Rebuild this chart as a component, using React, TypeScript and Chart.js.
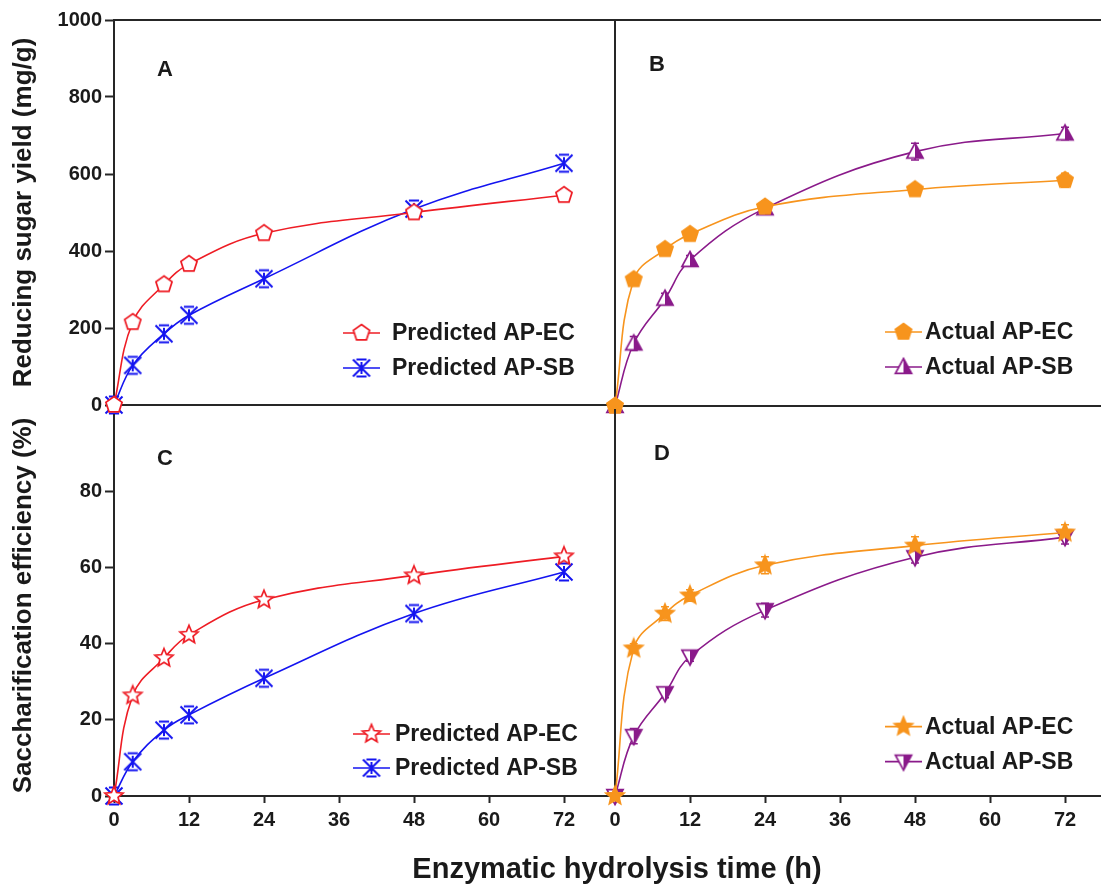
import React, { useEffect, useRef } from 'react';
import { Chart, registerables } from 'chart.js';

Chart.register(...registerables);

// ---------- data ----------
const hours = [0, 3, 8, 12, 24, 48, 72];
const xTicks = [0, 12, 24, 36, 48, 60, 72];
const yieldTicks = [0, 200, 400, 600, 800, 1000];
const effTicks = [0, 20, 40, 60, 80];

const predYieldEC = [0, 215, 313, 366, 446, 500, 545];
const predYieldSB = [0, 103, 185, 233, 328, 509, 628];
const actYieldEC = [0, 328, 406, 445, 516, 561, 585];
const actYieldECErr = [0, 8, 10, 10, 14, 10, 18];
const actYieldSB = [0, 162, 278, 378, 512, 659, 706];
const actYieldSBErr = [0, 18, 14, 12, 10, 22, 16];

const predEffEC = [0, 26.4, 36.2, 42.3, 51.5, 57.9, 62.9];
const predEffSB = [0, 9.0, 17.3, 21.3, 30.9, 47.9, 58.8];
const actEffEC = [0, 38.2, 47.2, 51.9, 59.7, 64.8, 68.2];
const actEffECErr = [0, 1.2, 1.8, 1.5, 2.2, 2.3, 2.0];
const actEffSB = [0, 15.5, 26.6, 36.1, 48.1, 61.8, 67.0];
const actEffSBErr = [0, 2.0, 1.2, 1.2, 1.8, 1.5, 1.8];

// ---------- style ----------
const FONT = "'Liberation Sans', Arial, Helvetica, sans-serif";
const INK = '#1a1a1a';
const AXIS = '#262626';
const RED = '#ee1c24';
const BLUE = '#1414f0';
const ORANGE = '#f7941d';
const PURPLE = '#8a1a8a';

type MarkerKind = 'pentOpen' | 'pentFill' | 'starOpen' | 'starFill' | 'hourglass' | 'triUpHalf' | 'triDownHalf';

function poly(ctx: CanvasRenderingContext2D, pts: number[][]) {
  ctx.beginPath();
  pts.forEach(([x, y], i) => (i ? ctx.lineTo(x, y) : ctx.moveTo(x, y)));
  ctx.closePath();
}

function makeMarker(kind: MarkerKind, color: string, r: number): HTMLCanvasElement {
  const size = Math.ceil(r * 2 + 5);
  const c = document.createElement('canvas');
  c.width = size;
  c.height = size;
  const ctx = c.getContext('2d')!;
  ctx.translate(size / 2, size / 2);
  ctx.lineWidth = 1.7;
  ctx.strokeStyle = color;
  ctx.fillStyle = color;
  const ngon = (n: number, rad: number) =>
    Array.from({ length: n }, (_, i) => {
      const a = -Math.PI / 2 + (2 * Math.PI * i) / n;
      return [rad * Math.cos(a), rad * Math.sin(a)];
    });
  const star = (rad: number) =>
    Array.from({ length: 10 }, (_, i) => {
      const rr = i % 2 ? rad * 0.45 : rad;
      const a = -Math.PI / 2 + (Math.PI * i) / 5;
      return [rr * Math.cos(a), rr * Math.sin(a)];
    });
  switch (kind) {
    case 'pentOpen':
      poly(ctx, ngon(5, r));
      ctx.fillStyle = '#fff';
      ctx.fill();
      ctx.stroke();
      break;
    case 'pentFill':
      poly(ctx, ngon(5, r));
      ctx.fill();
      ctx.stroke();
      break;
    case 'starOpen':
      poly(ctx, star(r));
      ctx.fillStyle = '#fff';
      ctx.fill();
      ctx.stroke();
      break;
    case 'starFill':
      poly(ctx, star(r));
      ctx.fill();
      ctx.stroke();
      break;
    case 'hourglass':
      ctx.lineWidth = 2;
      ctx.beginPath();
      ctx.moveTo(-r, -r); ctx.lineTo(r, r);
      ctx.moveTo(r, -r); ctx.lineTo(-r, r);
      ctx.moveTo(-r * 0.6, -r); ctx.lineTo(r * 0.6, -r);
      ctx.moveTo(-r * 0.6, r); ctx.lineTo(r * 0.6, r);
      ctx.moveTo(0, -r * 0.7); ctx.lineTo(0, r * 0.7);
      ctx.stroke();
      break;
    case 'triUpHalf': {
      const pts = [[0, -r], [r * 0.95, r * 0.75], [-r * 0.95, r * 0.75]];
      poly(ctx, pts);
      ctx.fillStyle = '#fff';
      ctx.fill();
      poly(ctx, [[0, -r], [r * 0.95, r * 0.75], [0, r * 0.75]]);
      ctx.fillStyle = color;
      ctx.fill();
      poly(ctx, pts);
      ctx.stroke();
      break;
    }
    case 'triDownHalf': {
      const pts = [[0, r], [r * 0.95, -r * 0.75], [-r * 0.95, -r * 0.75]];
      poly(ctx, pts);
      ctx.fillStyle = '#fff';
      ctx.fill();
      poly(ctx, [[0, r], [r * 0.95, -r * 0.75], [0, -r * 0.75]]);
      ctx.fillStyle = color;
      ctx.fill();
      poly(ctx, pts);
      ctx.stroke();
      break;
    }
  }
  return c;
}

interface Series {
  label: string;
  values: number[];
  errors?: number[];
  color: string;
  marker: HTMLCanvasElement;
}

interface Panel {
  series: Series[];
  yMax: number;
  yTicks: number[] | null;
  yTitle?: string;
  showX: boolean;
  letter: string;
  width: number;
  height: number;
  padTop: number;
  padRight: number;
  yWidth: number;
  xHeight: number;
  topHeight: number;
  letterPos: [number, number];
  legendLine: [number, number];
  legendText: number;
  legendRows: [number, number];
}

function decorPlugin(p: Panel) {
  return {
    id: 'decor' + p.letter,
    beforeDatasetsDraw(chart: any) {
      const ctx = chart.ctx as CanvasRenderingContext2D;
      const ys = chart.scales.y;
      p.series.forEach((s, di) => {
        if (!s.errors) return;
        const meta = chart.getDatasetMeta(di);
        ctx.save();
        ctx.strokeStyle = s.color;
        ctx.lineWidth = 1.5;
        s.errors.forEach((e, j) => {
          if (!e) return;
          const x = meta.data[j].x;
          const y1 = ys.getPixelForValue(s.values[j] + e);
          const y2 = ys.getPixelForValue(s.values[j] - e);
          ctx.beginPath();
          ctx.moveTo(x, y1); ctx.lineTo(x, y2);
          ctx.moveTo(x - 4, y1); ctx.lineTo(x + 4, y1);
          ctx.moveTo(x - 4, y2); ctx.lineTo(x + 4, y2);
          ctx.stroke();
        });
        ctx.restore();
      });
    },
    afterDraw(chart: any) {
      const ctx = chart.ctx as CanvasRenderingContext2D;
      const { left, top } = chart.chartArea;
      ctx.save();
      ctx.fillStyle = INK;
      ctx.font = `bold 22px ${FONT}`;
      ctx.textAlign = 'center';
      ctx.textBaseline = 'middle';
      ctx.fillText(p.letter, left + p.letterPos[0], top + p.letterPos[1]);
      ctx.textAlign = 'left';
      ctx.font = `bold 23px ${FONT}`;
      p.series.forEach((s, i) => {
        const y = top + p.legendRows[i];
        const x0 = left + p.legendLine[0];
        const x1 = left + p.legendLine[1];
        ctx.strokeStyle = s.color;
        ctx.lineWidth = 1.6;
        ctx.beginPath();
        ctx.moveTo(x0, y);
        ctx.lineTo(x1, y);
        ctx.stroke();
        const m = s.marker;
        ctx.drawImage(m, (x0 + x1) / 2 - m.width / 2, y - m.height / 2);
        ctx.fillStyle = INK;
        ctx.fillText(s.label, left + p.legendText, y + 1);
      });
      ctx.restore();
    },
  };
}

function buildConfig(p: Panel): any {
  const tickFont = { family: FONT, size: 20, weight: 'bold' };
  return {
    type: 'line',
    data: {
      datasets: p.series.map((s) => ({
        label: s.label,
        data: hours.map((h, i) => ({ x: h, y: s.values[i] })),
        borderColor: s.color,
        backgroundColor: s.color,
        borderWidth: 1.6,
        pointStyle: s.marker,
        pointRadius: 8,
        pointHoverRadius: 8,
        tension: 0.4,
        fill: false,
        clip: false,
      })),
    },
    options: {
      animation: false,
      responsive: false,
      devicePixelRatio: 1,
      events: [],
      layout: { padding: { left: 0, top: p.padTop, right: p.padRight, bottom: 0 } },
      plugins: { legend: { display: false }, tooltip: { enabled: false } },
      scales: {
        x: {
          type: 'linear',
          position: 'bottom',
          min: 0,
          max: 80,
          afterBuildTicks: (s: any) => {
            s.ticks = xTicks.map((v) => ({ value: v }));
          },
          ticks: {
            display: p.showX,
            font: tickFont,
            color: INK,
            padding: 5,
            maxRotation: 0,
            autoSkip: false,
            callback: (v: any) => String(v),
          },
          grid: {
            display: p.showX,
            drawOnChartArea: false,
            drawTicks: true,
            tickLength: 7,
            tickWidth: 2,
            tickColor: AXIS,
          },
          border: { display: true, color: AXIS, width: 2 },
          afterFit: (s: any) => {
            s.height = p.xHeight;
          },
        },
        xTop: {
          type: 'linear',
          position: 'top',
          min: 0,
          max: 80,
          display: p.topHeight > 0,
          ticks: { display: false },
          grid: { display: false },
          border: { display: true, color: AXIS, width: 2 },
          afterFit: (s: any) => {
            s.height = p.topHeight;
          },
        },
        y: {
          type: 'linear',
          position: 'left',
          min: 0,
          max: p.yMax,
          afterBuildTicks: (s: any) => {
            if (p.yTicks) s.ticks = p.yTicks.map((v) => ({ value: v }));
          },
          ticks: {
            display: !!p.yTicks,
            font: tickFont,
            color: INK,
            padding: 3,
            callback: (v: any) => String(v),
          },
          grid: {
            display: !!p.yTicks,
            drawOnChartArea: false,
            drawTicks: true,
            tickLength: 9,
            tickWidth: 2,
            tickColor: AXIS,
          },
          border: { display: true, color: AXIS, width: 2 },
          title: {
            display: !!p.yTitle,
            text: p.yTitle || '',
            font: { family: FONT, size: 26, weight: 'bold' },
            color: INK,
            padding: { top: 8, bottom: 0 },
          },
          afterFit: (s: any) => {
            s.width = p.yWidth;
          },
        },
      },
    },
    plugins: [decorPlugin(p)],
  };
}

export default function App() {
  const refA = useRef<HTMLCanvasElement>(null);
  const refB = useRef<HTMLCanvasElement>(null);
  const refC = useRef<HTMLCanvasElement>(null);
  const refD = useRef<HTMLCanvasElement>(null);

  useEffect(() => {
    const hg = makeMarker('hourglass', BLUE, 8.5);
    const panels: [React.RefObject<HTMLCanvasElement>, Panel][] = [
      [refA, {
        series: [
          { label: 'Predicted AP-EC', values: predYieldEC, color: RED, marker: makeMarker('pentOpen', RED, 8.5) },
          { label: 'Predicted AP-SB', values: predYieldSB, color: BLUE, marker: hg },
        ],
        yMax: 1000, yTicks: yieldTicks, yTitle: 'Reducing sugar yield (mg/g)', showX: false, letter: 'A',
        width: 640, height: 420, padTop: 0, padRight: 26, yWidth: 114, xHeight: 14, topHeight: 20,
        letterPos: [51, 50], legendLine: [229, 266], legendText: 278, legendRows: [313, 348],
      }],
      [refB, {
        series: [
          { label: 'Actual AP-EC', values: actYieldEC, errors: actYieldECErr, color: ORANGE, marker: makeMarker('pentFill', ORANGE, 8.5) },
          { label: 'Actual AP-SB', values: actYieldSB, errors: actYieldSBErr, color: PURPLE, marker: makeMarker('triUpHalf', PURPLE, 8.5) },
        ],
        yMax: 1000, yTicks: null, showX: false, letter: 'B',
        width: 530, height: 420, padTop: 0, padRight: 15, yWidth: 15, xHeight: 14, topHeight: 20,
        letterPos: [42, 45], legendLine: [270, 307], legendText: 310, legendRows: [312, 347],
      }],
      [refC, {
        series: [
          { label: 'Predicted AP-EC', values: predEffEC, color: RED, marker: makeMarker('starOpen', RED, 9.5) },
          { label: 'Predicted AP-SB', values: predEffSB, color: BLUE, marker: hg },
        ],
        yMax: 100, yTicks: effTicks, yTitle: 'Saccharification efficiency (%)', showX: true, letter: 'C',
        width: 640, height: 485, padTop: 6, padRight: 26, yWidth: 114, xHeight: 89, topHeight: 0,
        letterPos: [51, 44], legendLine: [239, 276], legendText: 281, legendRows: [319, 353],
      }],
      [refD, {
        series: [
          { label: 'Actual AP-EC', values: actEffEC, errors: actEffECErr, color: ORANGE, marker: makeMarker('starFill', ORANGE, 9.5) },
          { label: 'Actual AP-SB', values: actEffSB, errors: actEffSBErr, color: PURPLE, marker: makeMarker('triDownHalf', PURPLE, 8.5) },
        ],
        yMax: 100, yTicks: null, showX: true, letter: 'D',
        width: 530, height: 485, padTop: 6, padRight: 15, yWidth: 15, xHeight: 89, topHeight: 0,
        letterPos: [47, 44], legendLine: [270, 307], legendText: 310, legendRows: [317, 352],
      }],
    ];
    const charts = panels.map(([ref, p]) => new Chart(ref.current!, buildConfig(p)));
    return () => charts.forEach((c) => c.destroy());
  }, []);

  const cv = (left: number, top: number, w: number, h: number): React.CSSProperties => ({
    position: 'absolute', left, top, width: w, height: h, display: 'block',
  });

  return (
    <div style={{ position: 'absolute', left: 0, top: 0, width: 1101, height: 885, overflow: 'hidden', background: '#fff' }}>
      <canvas ref={refA} width={640} height={420} style={cv(0, 0, 640, 420)} />
      <canvas ref={refB} width={530} height={420} style={cv(600, 0, 530, 420)} />
      <canvas ref={refC} width={640} height={485} style={cv(0, 400, 640, 485)} />
      <canvas ref={refD} width={530} height={485} style={cv(600, 400, 530, 485)} />
      <div
        style={{
          position: 'absolute', left: 317, top: 851, width: 600, textAlign: 'center',
          fontFamily: FONT, fontWeight: 'bold', fontSize: 29, lineHeight: '34px', color: INK,
        }}
      >
        Enzymatic hydrolysis time (h)
      </div>
    </div>
  );
}
